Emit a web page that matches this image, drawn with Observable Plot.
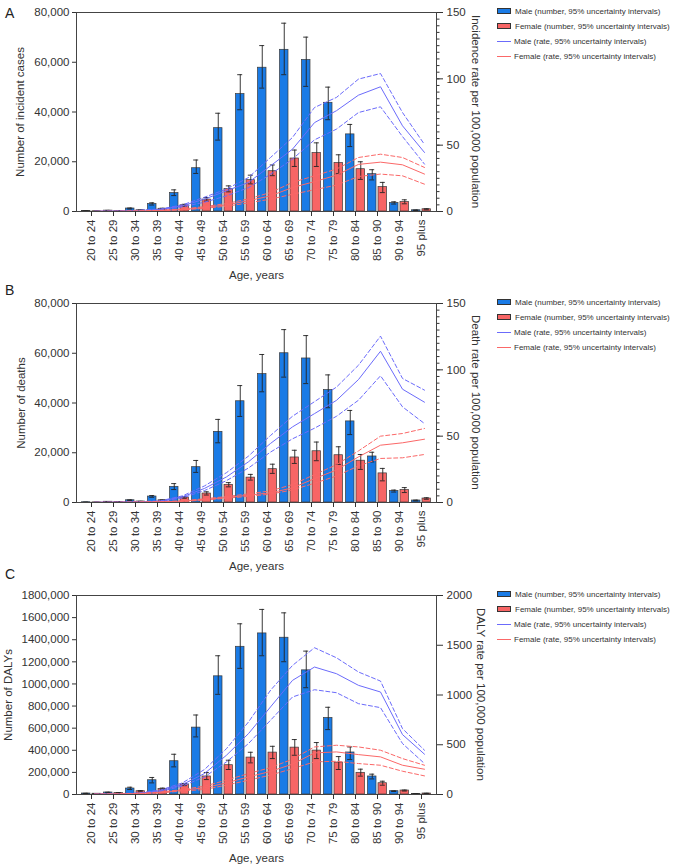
<!DOCTYPE html>
<html><head><meta charset="utf-8">
<script src="https://cdn.jsdelivr.net/npm/d3@7"></script>
<script src="https://cdn.jsdelivr.net/npm/@observablehq/plot@0.6"></script>
<style>
body{margin:0;background:#fff;font-family:"Liberation Sans",Arial,Helvetica,sans-serif;}
#root{position:relative;width:678px;height:866px;overflow:hidden;background:#fff}
.panel{position:absolute;left:0;width:678px}
.letter{position:absolute;left:5px;font-size:14px;line-height:14px;color:#222}
.legend{position:absolute;left:497px;font-size:8px;color:#333;}
.legrow{position:absolute;left:0;height:8px;display:flex;align-items:center;white-space:nowrap}
.sw{width:12px;height:4px;border:0.7px solid #333;margin-right:4px}
.ln{width:14px;height:0;margin-right:3px}
.rtitle{position:absolute;writing-mode:vertical-rl;font-size:11.5px;line-height:12px;width:12px;text-align:center;color:#333;white-space:nowrap}
</style></head><body><div id="root"></div>
<script>
const ages = ["20 to 24","25 to 29","30 to 34","35 to 39","40 to 44","45 to 49","50 to 54","55 to 59","60 to 64","65 to 69","70 to 74","75 to 79","80 to 84","85 to 90","90 to 94","95 plus"];

// Panel A: incidence
const incMale     = [150, 350, 1200, 3000, 7400, 17400, 33500, 47200, 57800, 65000, 60900, 43700, 31000, 15000, 3400, 500];
const incMaleLo   = [100, 250, 1000, 2600, 6400, 15300, 28700, 40900, 49600, 55000, 50300, 36900, 26100, 12700, 3000, 400];
const incMaleHi   = [200, 450, 1400, 3500, 8700, 20700, 39500, 55000, 66700, 75700, 70100, 50000, 35000, 16800, 3900, 600];
const incFemale   = [100, 250, 500, 1100, 2500, 4800, 9000, 12600, 16200, 21300, 23500, 19500, 17000, 9800, 3800, 900];
const incFemaleLo = [60, 180, 400, 900, 2100, 4200, 7900, 11100, 14400, 18100, 18100, 15200, 12900, 7600, 3100, 700];
const incFemaleHi = [140, 320, 600, 1300, 2900, 5600, 10300, 14600, 18700, 24700, 27600, 22800, 20000, 11700, 4700, 1100];
const incRateMale     = [0.1, 0.3, 0.7, 1.5, 4.3, 9.3, 15.6, 21.9, 34.4, 47, 67, 76, 87.7, 94, 64.6, 44.5];
const incRateMaleLo   = [0.05, 0.2, 0.5, 1.2, 3.5, 7, 11.8, 18, 28, 39.5, 54, 62.1, 74.6, 78.9, 56.5, 35.7];
const incRateMaleHi   = [0.2, 0.4, 0.9, 1.9, 5, 10.8, 16.9, 25.6, 40.7, 55.8, 78.4, 86, 99.8, 104, 74.6, 50.5];
const incRateFemale   = [0.05, 0.1, 0.3, 0.7, 1.5, 3, 5, 8.1, 11.8, 18.1, 22.5, 27.4, 35.5, 37.2, 35.2, 28.2];
const incRateFemaleLo = [0.03, 0.07, 0.2, 0.5, 1.2, 2.4, 4, 6.5, 9.3, 13, 16.4, 19.9, 26.4, 28.2, 26.9, 20.6];
const incRateFemaleHi = [0.08, 0.15, 0.4, 0.9, 1.9, 3.7, 6, 9.5, 14.3, 21.9, 26.9, 32, 40.7, 43.2, 40.7, 33.2];

// Panel B: deaths
const deathMale     = [100, 300, 900, 2400, 6300, 14200, 28400, 40700, 51600, 60000, 57900, 45200, 32600, 18500, 4600, 800];
const deathMaleLo   = [70, 220, 750, 2100, 5200, 12100, 24000, 34600, 44500, 50400, 47800, 38100, 27300, 16300, 4200, 650];
const deathMaleHi   = [130, 380, 1050, 2800, 7600, 16900, 33400, 47000, 59500, 69500, 67100, 51300, 37000, 20200, 5000, 950];
const deathFemale   = [50, 200, 400, 900, 2000, 3600, 7100, 10000, 13400, 18100, 20600, 19000, 16800, 11700, 5000, 1600];
const deathFemaleLo = [30, 150, 320, 750, 1700, 3000, 6300, 9000, 11700, 15700, 16800, 15300, 13300, 8700, 4000, 1300];
const deathFemaleHi = [70, 250, 480, 1050, 2300, 4300, 8000, 11300, 15400, 21000, 24300, 22400, 19300, 13700, 6000, 1900];
const deathRateMale     = [0.1, 0.2, 0.5, 1, 4.3, 10.6, 19.3, 30.7, 44.5, 57, 67, 77, 92.7, 114, 85.4, 75.6];
const deathRateMaleLo   = [0.05, 0.15, 0.4, 0.8, 3.5, 9, 16.5, 26, 38, 48, 56, 65, 77.1, 95.5, 72.1, 59.5];
const deathRateMaleHi   = [0.15, 0.3, 0.6, 1.3, 5, 12.5, 22.5, 35, 50.5, 65, 76, 87, 103.5, 125.4, 93.5, 84.7];
const deathRateFemale   = [0.05, 0.1, 0.2, 0.5, 1, 2.3, 3.8, 5.5, 7.3, 11, 18, 24.5, 34.4, 43.2, 45, 47.7];
const deathRateFemaleLo = [0.03, 0.07, 0.15, 0.4, 0.8, 1.9, 3.2, 4.7, 6.3, 9.5, 14.5, 20, 27.6, 33.2, 33.7, 36.2];
const deathRateFemaleHi = [0.07, 0.13, 0.3, 0.6, 1.3, 2.8, 4.5, 6.5, 8.8, 13.5, 21, 28.5, 38.9, 50, 52, 55.8];

// Panel C: DALYs
const dalyMale     = [9000, 18000, 54000, 129000, 301000, 605000, 1069000, 1336000, 1457000, 1418000, 1123000, 692000, 380000, 163000, 30000, 5000];
const dalyMaleLo   = [7000, 15000, 45000, 105000, 250000, 521000, 906000, 1141000, 1255000, 1201000, 966000, 587000, 316000, 141000, 27000, 4000];
const dalyMaleHi   = [11000, 21000, 66000, 154000, 364000, 719000, 1255000, 1544000, 1674000, 1643000, 1297000, 789000, 430000, 184000, 33000, 6000];
const dalyFemale   = [7000, 14000, 30000, 51000, 90000, 163000, 265000, 334000, 379000, 424000, 397000, 289000, 196000, 102000, 36000, 9000];
const dalyFemaleLo = [5000, 11000, 25000, 44000, 80000, 135000, 226000, 286000, 325000, 355000, 325000, 226000, 166000, 84000, 31000, 7000];
const dalyFemaleHi = [9000, 17000, 35000, 58000, 100000, 199000, 310000, 382000, 436000, 497000, 470000, 343000, 229000, 120000, 40000, 11000];
const dalyRateMale     = [3, 6, 12, 37, 100, 211, 395, 612, 880, 1147, 1281, 1214, 1097, 1030, 602, 405];
const dalyRateMaleLo   = [2, 5, 9, 30, 85, 177, 328, 512, 746, 980, 1053, 1023, 913, 873, 512, 311];
const dalyRateMaleHi   = [4, 8, 15, 45, 117, 251, 461, 729, 1047, 1297, 1475, 1374, 1231, 1140, 662, 445];
const dalyRateFemale   = [2, 4, 8, 20, 43, 67, 117, 177, 232, 305, 418, 428, 401, 378, 294, 254];
const dalyRateFemaleLo = [1, 3, 6, 16, 36, 50, 94, 144, 195, 260, 328, 334, 311, 294, 234, 187];
const dalyRateFemaleHi = [3, 5, 10, 25, 50, 84, 144, 211, 270, 355, 478, 495, 478, 445, 361, 294];

// axis ticks and labels
const countTicksAB = [0, 20000, 40000, 60000, 80000];
const rateTicksAB = [0, 50, 100, 150];
const rateMinorAB = d3.range(0, 151, 5);
const countTicksC = [0, 200000, 400000, 600000, 800000, 1000000, 1200000, 1400000, 1600000, 1800000];
const rateTicksC = [0, 500, 1000, 1500, 2000];
const legendLabels = ["Male (number, 95% uncertainty intervals)", "Female (number, 95% uncertainty intervals)", "Male (rate, 95% uncertainty intervals)", "Female (rate, 95% uncertainty intervals)"];

const FONT = '"Liberation Sans", Arial, Helvetica, sans-serif';
const MALE_BAR = "#1a7be6", FEMALE_BAR = "#f76565", MALE_LINE = "#6b6bfb", FEMALE_LINE = "#fb6868";
const INK = "#333";

const root = document.getElementById("root");

function panel(o) {
  const k = o.leftMax / o.rightMax;
  const rows = (v, lo, hi) => ages.map((age, i) => ({age, v: v[i], lo: lo[i], hi: hi[i]}));
  const M = rows(o.male, o.maleLo, o.maleHi), F = rows(o.female, o.femaleLo, o.femaleHi);
  const L = (r) => ages.map((age, i) => ({age, r: r[i] * k}));
  const dash = "4,2.5";
  const marks = [
    Plot.barY(M, {x: "age", y: "v", fill: MALE_BAR, stroke: "#3a3a3a", strokeWidth: 0.7, insetLeft: 1.5, insetRight: 12}),
    Plot.barY(F, {x: "age", y: "v", fill: FEMALE_BAR, stroke: "#3a3a3a", strokeWidth: 0.7, insetLeft: 12, insetRight: 1.5}),
    Plot.ruleX(M, {x: "age", y1: "lo", y2: "hi", dx: -5.25, stroke: "#222", strokeWidth: 0.9}),
    Plot.ruleX(F, {x: "age", y1: "lo", y2: "hi", dx: 5.25, stroke: "#222", strokeWidth: 0.9}),
    Plot.tickY(M, {x: "age", y: "hi", insetLeft: 3.2, insetRight: 13.8, stroke: "#222", strokeWidth: 0.9}),
    Plot.tickY(M, {x: "age", y: "lo", insetLeft: 3.2, insetRight: 13.8, stroke: "#222", strokeWidth: 0.9}),
    Plot.tickY(F, {x: "age", y: "hi", insetLeft: 13.8, insetRight: 3.2, stroke: "#222", strokeWidth: 0.9}),
    Plot.tickY(F, {x: "age", y: "lo", insetLeft: 13.8, insetRight: 3.2, stroke: "#222", strokeWidth: 0.9}),
    Plot.line(L(o.rMaleHi), {x: "age", y: "r", stroke: MALE_LINE, strokeWidth: 1, strokeDasharray: dash, dx: 3}),
    Plot.line(L(o.rMaleLo), {x: "age", y: "r", stroke: MALE_LINE, strokeWidth: 1, strokeDasharray: dash, dx: 3}),
    Plot.line(L(o.rMale), {x: "age", y: "r", stroke: MALE_LINE, strokeWidth: 1, dx: 3}),
    Plot.line(L(o.rFemaleHi), {x: "age", y: "r", stroke: FEMALE_LINE, strokeWidth: 1, strokeDasharray: dash, dx: 3}),
    Plot.line(L(o.rFemaleLo), {x: "age", y: "r", stroke: FEMALE_LINE, strokeWidth: 1, strokeDasharray: dash, dx: 3}),
    Plot.line(L(o.rFemale), {x: "age", y: "r", stroke: FEMALE_LINE, strokeWidth: 1, dx: 3}),
    Plot.frame({stroke: "#444", strokeWidth: 1}),
    Plot.axisY({anchor: "left", ticks: o.leftTicks, tickFormat: o.leftFormat, tickSize: 4, tickPadding: 3, label: o.leftTitle, labelAnchor: "center", labelArrow: "none", labelOffset: o.leftLabelOffset}),
    Plot.axisY({anchor: "right", ticks: o.rightTicks.map(d => d * k), tickFormat: d => String(Math.round(d / k)), tickSize: 6, tickPadding: 4, label: null})
  ];
  if (o.minor) marks.push(Plot.axisY({anchor: "right", ticks: o.minor.map(d => d * k), tickFormat: () => "", tickSize: 2.5, label: null}));
  marks.push(Plot.axisX({anchor: "bottom", tickRotate: -90, tickSize: 5, tickPadding: 3, label: "Age, years", labelAnchor: "center", labelArrow: "none", labelOffset: 67}));

  const chart = Plot.plot({
    width: 678, height: o.height,
    marginLeft: 76, marginRight: 242, marginTop: 12, marginBottom: o.height - 12 - 199,
    style: {fontFamily: FONT, fontSize: "11.5px", color: INK, background: "transparent", overflow: "visible"},
    x: {type: "band", domain: ages, padding: 0},
    y: {domain: [0, o.leftMax], nice: false},
    marks
  });
  const wrap = document.createElement("div");
  wrap.className = "panel";
  wrap.style.top = o.top + "px";
  wrap.appendChild(chart);
  const letter = document.createElement("div");
  letter.className = "letter";
  letter.textContent = o.letter;
  letter.style.top = o.letterTop + "px";
  const rt = document.createElement("div");
  rt.className = "rtitle";
  rt.textContent = o.rightTitle;
  rt.style.left = o.rightTitleLeft + "px";
  rt.style.top = (o.top + 12) + "px";
  rt.style.height = "199px";
  const lg = document.createElement("div");
  lg.className = "legend";
  lg.style.top = (o.top + 12) + "px";
  const offs = [-4.7, 10.3, 25.3, 40.5];
  legendLabels.forEach((t, i) => {
    const r = document.createElement("div");
    r.className = "legrow";
    r.style.top = offs[i] + "px";
    const s = document.createElement("div");
    if (i < 2) { s.className = "sw"; s.style.background = i === 0 ? MALE_BAR : FEMALE_BAR; }
    else { s.className = "ln"; s.style.borderTop = "1px solid " + (i === 2 ? MALE_LINE : FEMALE_LINE); }
    r.appendChild(s);
    const sp = document.createElement("span"); sp.textContent = t; r.appendChild(sp);
    lg.appendChild(r);
  });
  root.appendChild(wrap); root.appendChild(letter); root.appendChild(rt); root.appendChild(lg);
}

const fmtAB = d3.format(",");
const fmtC = d => d >= 1000000 ? Math.floor(d / 1000) + ",000" : d3.format(",")(d);

panel({top: 0, letter: "A", letterTop: 6, height: 286, leftMax: 80000, rightMax: 150,
  leftTicks: countTicksAB, rightTicks: rateTicksAB, minor: rateMinorAB, leftFormat: fmtAB,
  leftTitle: "Number of incident cases", rightTitle: "Incidence rate per 100,000 population",
  leftLabelOffset: 61, rightTitleLeft: 470,
  male: incMale, maleLo: incMaleLo, maleHi: incMaleHi, female: incFemale, femaleLo: incFemaleLo, femaleHi: incFemaleHi,
  rMale: incRateMale, rMaleLo: incRateMaleLo, rMaleHi: incRateMaleHi, rFemale: incRateFemale, rFemaleLo: incRateFemaleLo, rFemaleHi: incRateFemaleHi});

panel({top: 291, letter: "B", letterTop: 283, height: 286, leftMax: 80000, rightMax: 150,
  leftTicks: countTicksAB, rightTicks: rateTicksAB, minor: rateMinorAB, leftFormat: fmtAB,
  leftTitle: "Number of deaths", rightTitle: "Death rate per 100,000 population",
  leftLabelOffset: 60, rightTitleLeft: 470,
  male: deathMale, maleLo: deathMaleLo, maleHi: deathMaleHi, female: deathFemale, femaleLo: deathFemaleLo, femaleHi: deathFemaleHi,
  rMale: deathRateMale, rMaleLo: deathRateMaleLo, rMaleHi: deathRateMaleHi, rFemale: deathRateFemale, rFemaleLo: deathRateFemaleLo, rFemaleHi: deathRateFemaleHi});

panel({top: 583, letter: "C", letterTop: 567, height: 283, leftMax: 1800000, rightMax: 2000,
  leftTicks: countTicksC, rightTicks: rateTicksC, minor: null, leftFormat: fmtC,
  leftTitle: "Number of DALYs", rightTitle: "DALY rate per 100,000 population",
  leftLabelOffset: 73, rightTitleLeft: 475,
  male: dalyMale, maleLo: dalyMaleLo, maleHi: dalyMaleHi, female: dalyFemale, femaleLo: dalyFemaleLo, femaleHi: dalyFemaleHi,
  rMale: dalyRateMale, rMaleLo: dalyRateMaleLo, rMaleHi: dalyRateMaleHi, rFemale: dalyRateFemale, rFemaleLo: dalyRateFemaleLo, rFemaleHi: dalyRateFemaleHi});
</script></body></html>
